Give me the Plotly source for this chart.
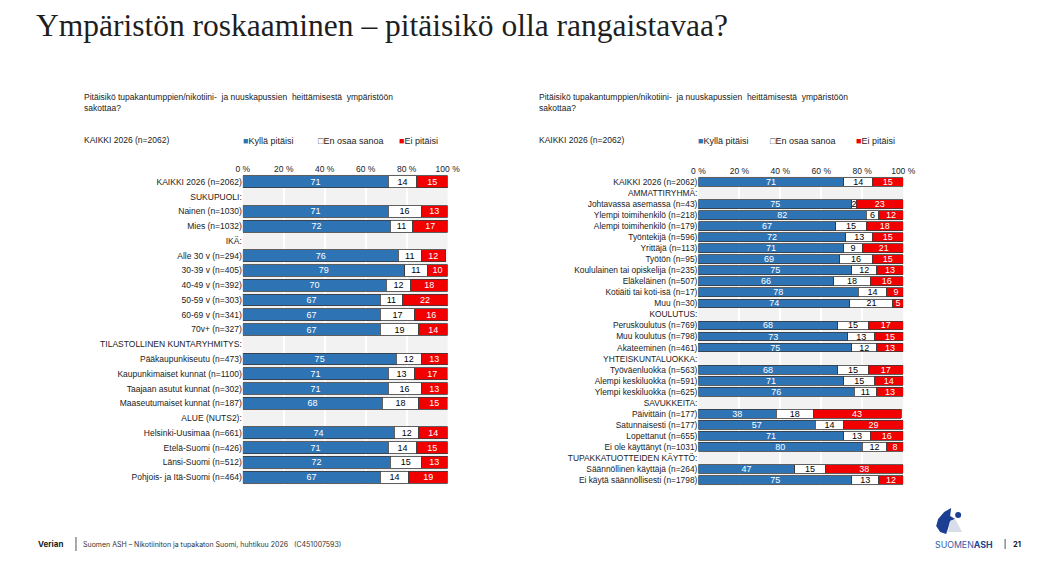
import plotly.graph_objects as go

# page is 1058x567, body keeps its default 8px margin
PAGE_W, PAGE_H = 1058, 567
PAD = 8
W, H = PAGE_W - 2 * PAD, PAGE_H - 2 * PAD
# the photographed page comes out slightly squeezed sideways; undo it
XOFF, XS = 6.1, 0.9827

# --- data -------------------------------------------------------------------
left_labels = [
    'KAIKKI 2026 (n=2062)', 'SUKUPUOLI:', 'Nainen (n=1030)', 'Mies (n=1032)', 'IKÄ:',
    'Alle 30 v (n=294)', '30-39 v (n=405)', '40-49 v (n=392)', '50-59 v (n=303)',
    '60-69 v (n=341)', '70v+ (n=327)', 'TILASTOLLINEN KUNTARYHMITYS:',
    'Pääkaupunkiseutu (n=473)', 'Kaupunkimaiset kunnat (n=1100)', 'Taajaan asutut kunnat (n=302)',
    'Maaseutumaiset kunnat (n=187)', 'ALUE (NUTS2):', 'Helsinki-Uusimaa (n=661)',
    'Etelä-Suomi (n=426)', 'Länsi-Suomi (n=512)', 'Pohjois- ja Itä-Suomi (n=464)',
]
left_yes = [71, None, 71, 72, None, 76, 79, 70, 67, 67, 67, None, 75, 71, 71, 68, None, 74, 71, 72, 67]
left_dk = [14, None, 16, 11, None, 11, 11, 12, 11, 17, 19, None, 12, 13, 16, 18, None, 12, 14, 15, 14]
left_no = [15, None, 13, 17, None, 12, 10, 18, 22, 16, 14, None, 13, 17, 13, 15, None, 14, 15, 13, 19]

right_labels = [
    'KAIKKI 2026 (n=2062)', 'AMMATTIRYHMÄ:', 'Johtavassa asemassa (n=43)', 'Ylempi toimihenkilö (n=218)',
    'Alempi toimihenkilö (n=179)', 'Työntekijä (n=596)', 'Yrittäjä (n=113)', 'Työtön (n=95)',
    'Koululainen tai opiskelija (n=235)', 'Eläkeläinen (n=507)', 'Kotiäiti tai koti-isä (n=17)',
    'Muu (n=30)', 'KOULUTUS:', 'Peruskoulutus (n=769)', 'Muu koulutus (n=798)', 'Akateeminen (n=461)',
    'YHTEISKUNTALUOKKA:', 'Työväenluokka (n=563)', 'Alempi keskiluokka (n=591)',
    'Ylempi keskiluokka (n=625)', 'SAVUKKEITA:', 'Päivittäin (n=177)', 'Satunnaisesti (n=177)',
    'Lopettanut (n=655)', 'Ei ole käyttänyt (n=1031)', 'TUPAKKATUOTTEIDEN KÄYTTÖ:',
    'Säännöllinen käyttäjä (n=264)', 'Ei käytä säännöllisesti (n=1798)',
]
right_yes = [71, None, 75, 82, 67, 72, 71, 69, 75, 66, 78, 74, None, 68, 73, 75, None, 68, 71, 76,
             None, 38, 57, 71, 80, None, 47, 75]
right_dk = [14, None, 2, 6, 15, 13, 9, 16, 12, 18, 14, 21, None, 15, 13, 12, None, 15, 15, 11,
            None, 18, 14, 13, 12, None, 15, 13]
right_no = [15, None, 23, 12, 18, 15, 21, 15, 13, 16, 9, 5, None, 17, 15, 13, None, 17, 14, 13,
            None, 43, 29, 16, 8, None, 38, 12]

series_names = ['Kyllä pitäisi', 'En osaa sanoa', 'Ei pitäisi']
series_colors = ['#2E74B5', '#FFFFFF', '#F20000']
text_colors = ['white', 'black', 'white']
x_ticks = [0, 20, 40, 60, 80, 100]
x_ticktext = ['0 %', '20 %', '40 %', '60 %', '80 %', '100 %']

question = 'Pitäisikö tupakantumppien/nikotiini-  ja nuuskapussien  heittämisestä  ympäristöön<br>sakottaa?'
FONT = 'Liberation Sans'


# positions below are given in screenshot pixels
def px_x(x):
    return ((x - XOFF) / XS - PAD) / W


def px_y(y):
    return 1 - (y - PAD) / H


fig = go.Figure()

panels = [
    (left_labels, [left_yes, left_dk, left_no], 'x', 'y'),
    (right_labels, [right_yes, right_dk, right_no], 'x2', 'y2'),
]
for labels, values, xa, ya in panels:
    for name, vals, col, tcol in zip(series_names, values, series_colors, text_colors):
        fig.add_trace(go.Bar(
            y=labels, x=vals, name=name, orientation='h',
            xaxis=xa, yaxis=ya,
            marker=dict(color=col, line=dict(color='#3A3A3A', width=0.8)),
            text=['' if v is None else str(v) for v in vals],
            textposition='inside', insidetextanchor='middle', textangle=0,
            textfont=dict(family=FONT, size=9, color=tcol),
            showlegend=False, hoverinfo='skip',
        ))

axis_x = dict(range=[0, 100], side='top', tickvals=x_ticks, ticktext=x_ticktext,
              showgrid=True, gridcolor='white', gridwidth=2, zeroline=False, showline=False,
              ticks='', tickfont=dict(family=FONT, size=8.5, color='#222'), fixedrange=True)
axis_y = dict(type='category', showgrid=False, zeroline=False, showline=False, ticks='',
              tickfont=dict(family=FONT, size=8.5, color='#222'), fixedrange=True)

fig.update_layout(
    width=W, height=H,
    margin=dict(l=0, r=0, t=0, b=0),
    paper_bgcolor='white', plot_bgcolor='#F2F2F2',
    barmode='stack', bargap=0.2,
    uniformtext=dict(minsize=8, mode='show'),
    xaxis=dict(axis_x, domain=[px_x(242), px_x(447)], anchor='y'),
    yaxis=dict(axis_y, domain=[px_y(484.5), px_y(174.5)], anchor='x',
               range=[len(left_labels) - 0.5, -0.5]),
    xaxis2=dict(axis_x, domain=[px_x(698), px_x(903)], anchor='y2'),
    yaxis2=dict(axis_y, domain=[px_y(485.5), px_y(176.5)], anchor='x2',
                range=[len(right_labels) - 0.5, -0.5], tickfont=dict(family=FONT, size=8.4, color='#222')),
)

ann = []
# title
ann.append(dict(x=px_x(33), y=px_y(25), text='Ympäristön roskaaminen – pitäisikö olla rangaistavaa?',
                font=dict(family='Liberation Serif', size=31.5, color='#1E1E1E'), xanchor='left', yanchor='middle'))

# per-panel question, base and legend
for x0, leg in [(81, [243, 318, 399]), (536, [699, 771, 857])]:
    ann.append(dict(x=px_x(x0), y=px_y(90), text=question, align='left',
                    font=dict(family=FONT, size=8.5, color='#222'), xanchor='left', yanchor='top'))
    ann.append(dict(x=px_x(x0), y=px_y(140), text='KAIKKI 2026 (n=2062)',
                    font=dict(family=FONT, size=8.5, color='#222'), xanchor='left', yanchor='middle'))
    marks = ["<span style='color:#2E74B5'>■</span>", "<span style='color:#444'>□</span>",
             "<span style='color:#F20000'>■</span>"]
    for lx, mark, name in zip(leg, marks, series_names):
        ann.append(dict(x=px_x(lx - 3), y=px_y(141), text=mark + name,
                        font=dict(family=FONT, size=9, color='#222'), xanchor='left', yanchor='middle'))

# footer
ann.append(dict(x=px_x(35), y=px_y(544), text='<b>Verian</b>',
                font=dict(family='Inter', size=8, color='#222'), xanchor='left', yanchor='middle'))
ann.append(dict(x=px_x(80), y=px_y(544),
                text='Suomen ASH – Nikotiiniton ja tupakaton Suomi, huhtikuu 2026   (C451007593)',
                font=dict(family='Inter', size=7, color='#333'), xanchor='left', yanchor='middle'))
ann.append(dict(x=px_x(933), y=px_y(544), text="SUOMEN<b style='color:#1C3F94'>ASH</b>",
                font=dict(family='Inter', size=8.8, color='#2F5AA8'), xanchor='left', yanchor='middle'))
ann.append(dict(x=px_x(1011), y=px_y(544), text='<b>21</b>',
                font=dict(family='Inter', size=7.5, color='#222'), xanchor='left', yanchor='middle'))

for a in ann:
    a.update(xref='paper', yref='paper', showarrow=False)
fig.update_layout(annotations=ann)


def path_px(points):
    return 'M ' + ' L '.join(f'{px_x(x):.5f},{px_y(y):.5f}' for x, y in points) + ' Z'


shapes = [
    # footer separators
    dict(type='line', x0=px_x(75), x1=px_x(75), y0=px_y(537), y1=px_y(551), line=dict(color='#555', width=1)),
    dict(type='line', x0=px_x(1005), x1=px_x(1005), y0=px_y(539), y1=px_y(549), line=dict(color='#555', width=1)),
    # logo mark
    dict(type='path', path=path_px([(951, 508), (944, 512), (938, 519), (936, 526), (940, 532), (946, 534),
                                    (948, 528), (950, 521), (955, 519), (950, 516)]),
         fillcolor='#1C3F94', line=dict(width=0)),
    dict(type='path', path=path_px([(950, 521), (955, 519), (962, 532), (948, 532)]),
         fillcolor='#D9DDEA', line=dict(width=0)),
    dict(type='circle', x0=px_x(955), x1=px_x(961), y0=px_y(518), y1=px_y(512),
         fillcolor='#1C3F94', line=dict(width=0)),
]
for s in shapes:
    s.update(xref='paper', yref='paper')
fig.update_layout(shapes=shapes)

fig.write_html('out.html', config={'displayModeBar': False})
